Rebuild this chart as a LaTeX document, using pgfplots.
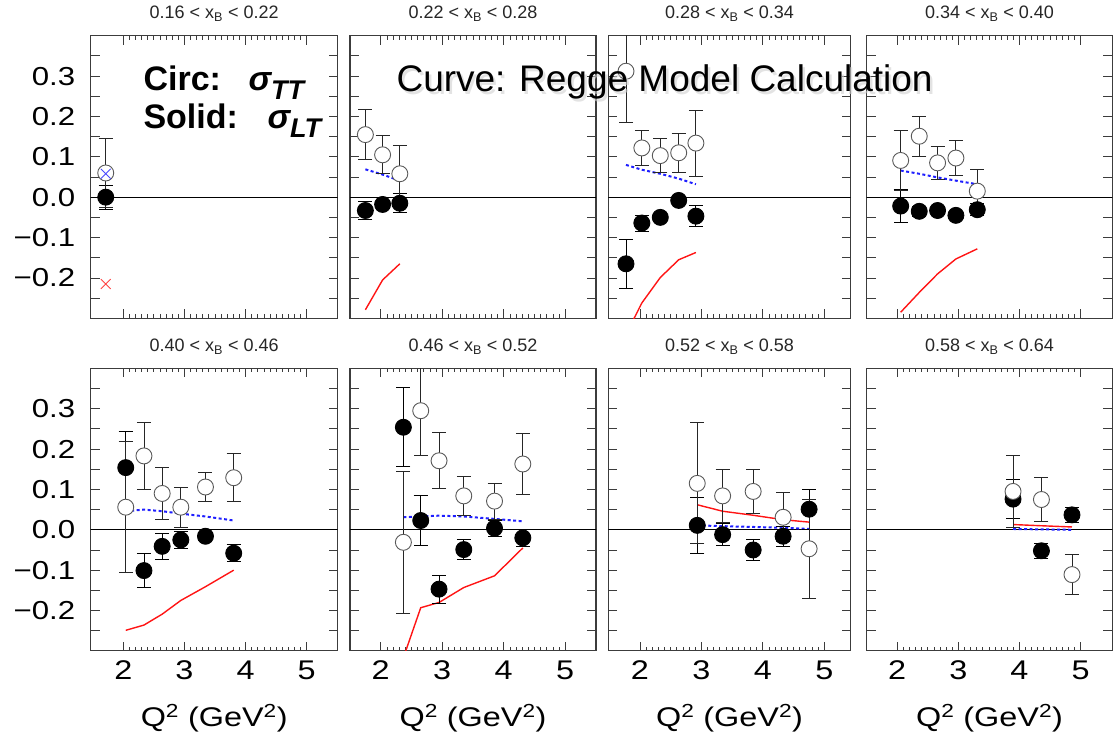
\documentclass[border=0pt]{standalone}
\usepackage{fontspec}
\setmainfont{Liberation Sans}
\newfontfamily\widesf{Liberation Sans}[FakeStretch=1.2]
\usepackage{pgfplots}
\pgfplotsset{compat=1.18}

\definecolor{regblue}{RGB}{30,30,255}
\definecolor{regred}{RGB}{255,20,20}
\definecolor{framegray}{RGB}{60,60,60}

\pgfplotsset{
  panel/.style={
    scale only axis, height=282.6pt,
    ymin=-0.3, ymax=0.4,
    xtick={2,3,4,5}, minor x tick num=9,
    ytick={-0.25,-0.2,-0.15,-0.1,-0.05,0,0.05,0.1,0.15,0.2,0.25,0.3,0.35},
    xticklabels={}, yticklabels={},
    tick align=inside, tick pos=both,
    major tick length=9pt, minor tick length=4pt,
    tick style={framegray, line width=0.8pt},
    axis line style={framegray, line width=1.1pt},
    xticklabel style={font=\widesf\fontsize{27}{27}\selectfont, yshift=-6pt},
    yticklabel style={font=\widesf\fontsize{26}{26}\selectfont, xshift=-12pt},
    title style={at={(0.5,1)}, anchor=base, yshift=11pt,
      font=\fontsize{18}{18}\selectfont, text=black!85},
    xlabel style={at={(axis description cs:0.5,0)}, anchor=base,
      yshift=-75.7pt, font=\widesf\fontsize{27}{27}\selectfont},
  },
  ylab/.style={yticklabels={,−0.2,,−0.1,,0.0,,0.1,,0.2,,0.3,}},
  xlab/.style={xticklabels={2,3,4,5}, xlabel={Q\textsuperscript{2} (GeV\textsuperscript{2})}},
  zero/.style={black, line width=0.9pt, forget plot},
  regge/.style={regred, line width=1.4pt, no marks},
  reggeTT/.style={regblue, line width=2pt, dash pattern=on 3pt off 2.5pt, no marks},
  oTT/.style={only marks, mark=*, mark size=8pt,
    mark options={fill=white, draw=black!65, line width=0.9pt},
    error bars/.cd, y dir=both, y explicit,
    error bar style={black!85, line width=0.9pt},
    error mark options={rotate=90, mark size=7pt, black!85, line width=0.9pt}},
  sLT/.style={only marks, mark=*, mark size=8pt,
    mark options={fill=black, draw=black, line width=0.9pt},
    error bars/.cd, y dir=both, y explicit,
    error bar style={black, line width=0.9pt},
    error mark options={rotate=90, mark size=7pt, black, line width=0.9pt}},
}

\begin{document}
\begin{tikzpicture}
\useasboundingbox (0,0) rectangle (1113pt,-740pt);

% ---- top row ----
\begin{axis}[panel, ylab, at={(90.7pt,-35.7pt)}, anchor=north west, width=247pt,
  xmin=1.467, xmax=5.507, title={0.16 < x\textsubscript{B} < 0.22}]
\addplot[zero] coordinates {(1,0)(6,0)};
\addplot[sLT] coordinates {(1.713,0.000) +- (0,0.030)};
\addplot[oTT] coordinates {(1.713,0.060) +- (0,0.085)};
\addplot[only marks, mark=x, mark size=7pt, mark options={regblue!80, line width=0.8pt}] coordinates {(1.713,0.058)};
\addplot[only marks, mark=x, mark size=7pt, mark options={regred!80, line width=0.8pt}] coordinates {(1.713,-0.215)};
\end{axis}

\begin{axis}[panel, at={(350pt,-35.7pt)}, anchor=north west, width=246pt,
  xmin=1.5, xmax=5.5, title={0.22 < x\textsubscript{B} < 0.28}]
\addplot[zero] coordinates {(1,0)(6,0)};
\addplot[regge] coordinates {(1.75,-0.279)(2.03,-0.205)(2.31,-0.165)};
\addplot[reggeTT] coordinates {(1.75,0.069)(2.03,0.056)(2.31,0.041)};
\addplot[sLT] coordinates {(1.75,-0.033) +- (0,0.023) (2.03,-0.018) +- (0,0.010) (2.31,-0.015) +- (0,0.024)};
\addplot[oTT] coordinates {(1.75,0.155) +- (0,0.062) (2.03,0.105) +- (0,0.047) (2.31,0.058) +- (0,0.070)};
\end{axis}

\begin{axis}[panel, at={(608.3pt,-35.7pt)}, anchor=north west, width=242.4pt,
  xmin=1.484, xmax=5.43, title={0.28 < x\textsubscript{B} < 0.34}]
\addplot[zero] coordinates {(1,0)(6,0)};
\addplot[regge] coordinates {(1.772,-0.34)(2.03,-0.262)(2.33,-0.199)(2.63,-0.155)(2.91,-0.137)};
\addplot[reggeTT] coordinates {(1.772,0.080)(2.03,0.068)(2.33,0.058)(2.63,0.046)(2.91,0.032)};
\addplot[sLT] coordinates {(1.772,-0.165) +- (0,0.060) (2.03,-0.064) +- (0,0.020) (2.33,-0.050) +- (0,0.010)
  (2.63,-0.008) +- (0,0.010) (2.91,-0.047) +- (0,0.026)};
\addplot[oTT] coordinates {(1.772,0.312) +- (0,0.126) (2.03,0.122) +- (0,0.043) (2.33,0.103) +- (0,0.042)
  (2.63,0.110) +- (0,0.048) (2.91,0.134) +- (0,0.082)};
\end{axis}

\begin{axis}[panel, at={(866.7pt,-35.7pt)}, anchor=north west, width=245.6pt,
  xmin=1.5, xmax=5.52, title={0.34 < x\textsubscript{B} < 0.40}]
\addplot[zero] coordinates {(1,0)(6,0)};
\addplot[regge] coordinates {(2.056,-0.285)(2.36,-0.236)(2.66,-0.190)(2.96,-0.153)(3.31,-0.128)};
\addplot[reggeTT] coordinates {(2.056,0.066)(2.36,0.058)(2.66,0.049)(2.96,0.041)(3.31,0.032)};
\addplot[sLT] coordinates {(2.056,-0.022) +- (0,0.040) (2.36,-0.035) +- (0,0.012) (2.66,-0.033) +- (0,0.010)
  (2.96,-0.045) +- (0,0.010) (3.31,-0.031) +- (0,0.015)};
\addplot[oTT] coordinates {(2.056,0.091) +- (0,0.075) (2.36,0.151) +- (0,0.049) (2.66,0.085) +- (0,0.040)
  (2.96,0.097) +- (0,0.043) (3.31,0.015) +- (0,0.054)};
\end{axis}

% ---- bottom row ----
\begin{axis}[panel, ylab, xlab, at={(90.7pt,-368.3pt)}, anchor=north west, width=247pt,
  xmin=1.467, xmax=5.507, title={0.40 < x\textsubscript{B} < 0.46}]
\addplot[zero] coordinates {(1,0)(6,0)};
\addplot[regge] coordinates {(2.04,-0.249)(2.338,-0.236)(2.636,-0.209)(2.941,-0.175)(3.344,-0.141)(3.806,-0.100)};
\addplot[reggeTT] coordinates {(2.04,0.046)(2.338,0.050)(2.636,0.046)(2.941,0.040)(3.344,0.033)(3.806,0.023)};
\addplot[sLT] coordinates {(2.04,0.154) +- (0,0.089) (2.338,-0.101) +- (0,0.043) (2.636,-0.041) +- (0,0.032)
  (2.941,-0.025) +- (0,0.021) (3.344,-0.016) +- (0,0.010) (3.806,-0.058) +- (0,0.021)};
\addplot[oTT] coordinates {(2.04,0.056) +- (0,0.162) (2.338,0.183) +- (0,0.083) (2.636,0.090) +- (0,0.064)
  (2.941,0.056) +- (0,0.050) (3.344,0.106) +- (0,0.037) (3.806,0.129) +- (0,0.059)};
\end{axis}

\begin{axis}[panel, xlab, at={(350pt,-368.3pt)}, anchor=north west, width=246pt,
  xmin=1.5, xmax=5.5, title={0.46 < x\textsubscript{B} < 0.52}]
\addplot[zero] coordinates {(1,0)(6,0)};
\addplot[regge] coordinates {(2.368,-0.317)(2.650,-0.193)(2.948,-0.180)(3.35,-0.143)(3.85,-0.114)(4.31,-0.045)};
\addplot[reggeTT] coordinates {(2.368,0.031)(2.650,0.033)(2.948,0.035)(3.35,0.033)(3.85,0.027)(4.31,0.021)};
\addplot[sLT] coordinates {(2.368,0.254) +- (0,0.098) (2.650,0.023) +- (0,0.061) (2.948,-0.147) +- (0,0.035)
  (3.35,-0.049) +- (0,0.025) (3.85,0.004) +- (0,0.020) (4.31,-0.020) +- (0,0.022)};
\addplot[oTT] coordinates {(2.368,-0.031) +- (0,0.176) (2.650,0.295) +- (0,0.110) (2.948,0.171) +- (0,0.069)
  (3.35,0.084) +- (0,0.049) (3.85,0.071) +- (0,0.045) (4.31,0.163) +- (0,0.076)};
\end{axis}

\begin{axis}[panel, xlab, at={(608.3pt,-368.3pt)}, anchor=north west, width=242.4pt,
  xmin=1.484, xmax=5.43, title={0.52 < x\textsubscript{B} < 0.58}]
\addplot[zero] coordinates {(1,0)(6,0)};
\addplot[regge] coordinates {(2.932,0.062)(3.345,0.046)(3.842,0.036)(4.33,0.025)(4.753,0.019)};
\addplot[reggeTT] coordinates {(2.932,0.011)(3.345,0.009)(3.842,0.007)(4.33,0.005)(4.753,0.002)};
\addplot[sLT] coordinates {(2.932,0.011) +- (0,0.070) (3.345,-0.012) +- (0,0.028) (3.842,-0.050) +- (0,0.025)
  (4.33,-0.016) +- (0,0.025) (4.753,0.051) +- (0,0.049)};
\addplot[oTT] coordinates {(2.932,0.115) +- (0,0.150) (3.345,0.084) +- (0,0.066) (3.842,0.095) +- (0,0.054)
  (4.33,0.031) +- (0,0.061) (4.753,-0.047) +- (0,0.122)};
\end{axis}

\begin{axis}[panel, xlab, at={(866.7pt,-368.3pt)}, anchor=north west, width=245.6pt,
  xmin=1.5, xmax=5.52, title={0.58 < x\textsubscript{B} < 0.64}]
\addplot[zero] coordinates {(1,0)(6,0)};
\addplot[regge] coordinates {(3.895,0.013)(4.36,0.010)(4.86,0.007)};
\addplot[reggeTT] coordinates {(3.895,0.002)(4.36,0.001)(4.86,0.000)};
\addplot[sLT] coordinates {(3.895,0.076) +- (0,0.049) (4.36,-0.052) +- (0,0.018) (4.86,0.037) +- (0,0.018)};
\addplot[oTT] coordinates {(3.895,0.095) +- (0,0.088) (4.36,0.075) +- (0,0.054) (4.86,-0.111) +- (0,0.050)};
\end{axis}

% ---- annotations ----
\node[anchor=base west, font=\bfseries\fontsize{34}{34}\selectfont] at (140pt,-90.7pt) {Circ:};
\node[anchor=base west, font=\bfseries\itshape\fontsize{34}{34}\selectfont] at (245pt,-90.7pt)
  {σ\raisebox{-9pt}{\fontsize{27}{27}\selectfont TT}};
\node[anchor=base west, font=\bfseries\fontsize{34}{34}\selectfont] at (140pt,-128.3pt) {Solid:};
\node[anchor=base west, font=\bfseries\itshape\fontsize{34}{34}\selectfont] at (264pt,-128.3pt)
  {σ\raisebox{-9pt}{\fontsize{27}{27}\selectfont LT}};
\node[anchor=base west, font=\fontsize{37}{37}\selectfont, text=black!18, opacity=0.6] at (395.5pt,-94.5pt)
  {Curve: Regge Model Calculation};
\node[anchor=base west, font=\fontsize{37}{37}\selectfont] at (393pt,-91.7pt)
  {Curve: Regge Model Calculation};
\end{tikzpicture}
\end{document}
